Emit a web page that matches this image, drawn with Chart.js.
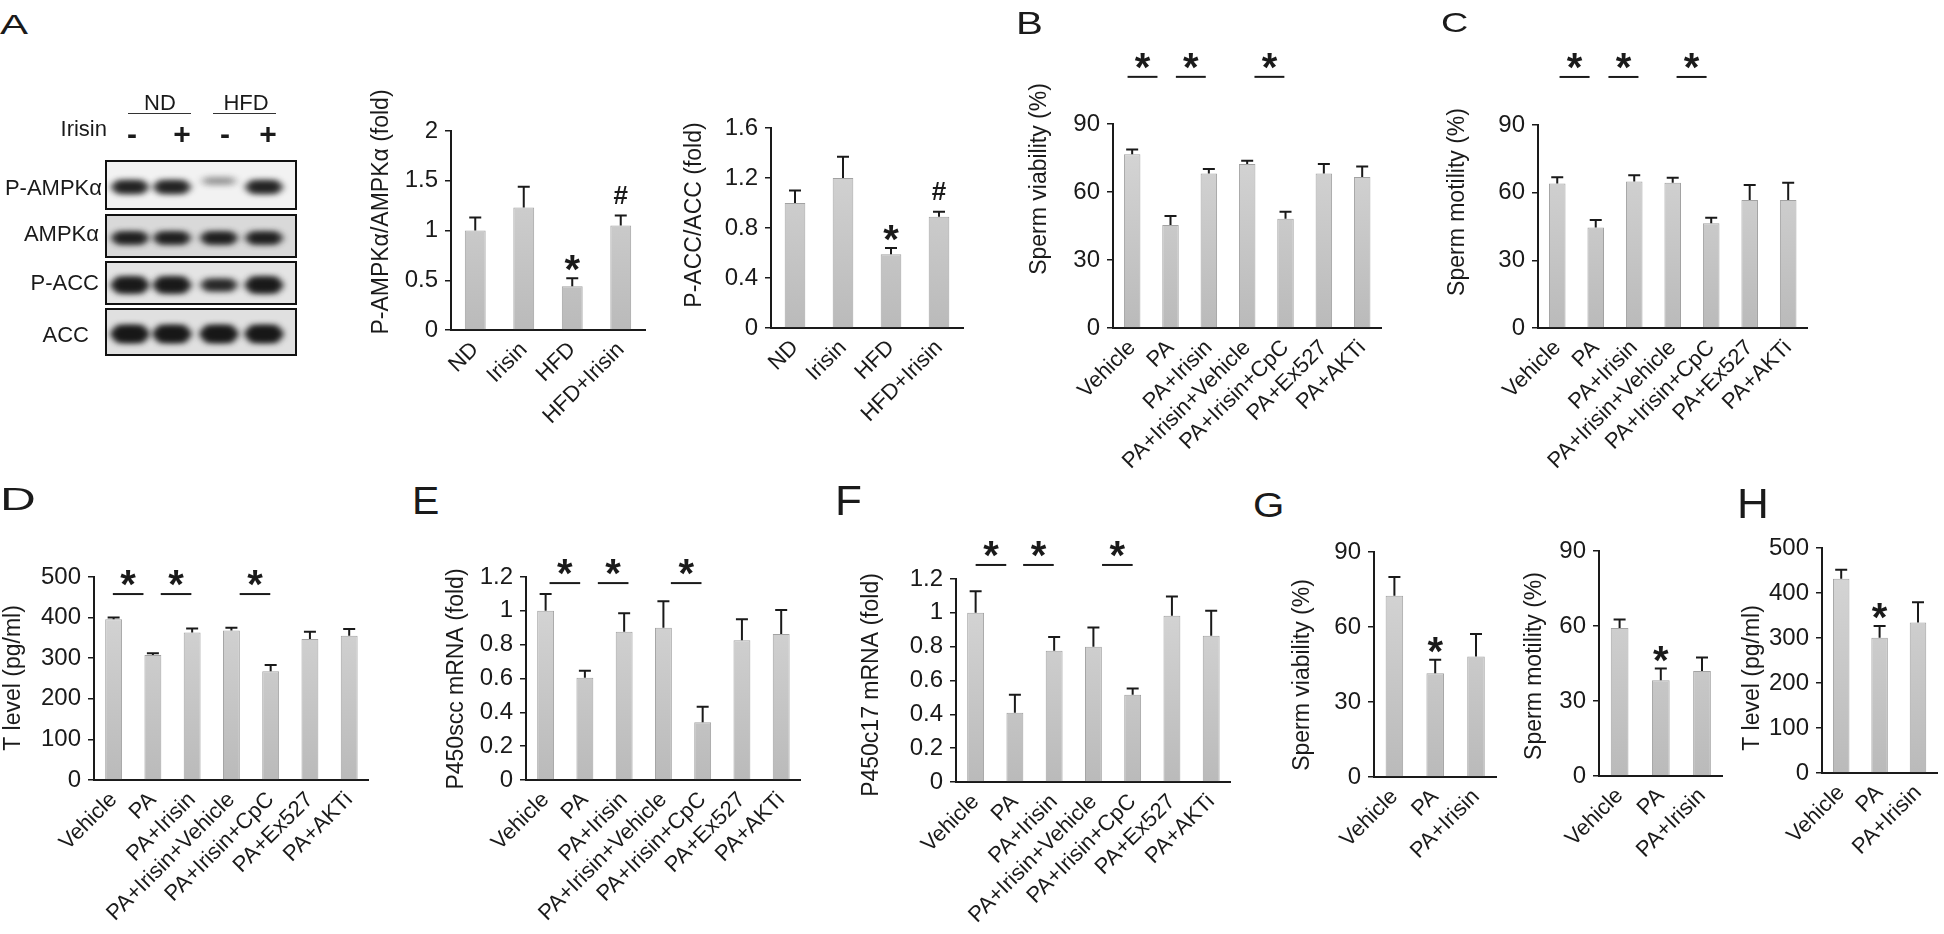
<!DOCTYPE html>
<html>
<head>
<meta charset="utf-8">
<script src="https://cdn.jsdelivr.net/npm/chart.js@4.4.0/dist/chart.umd.min.js"></script>
<style>
  html, body { margin: 0; padding: 0; background: #fff; overflow: hidden; }
  body { width: 1944px; height: 934px; position: relative; font-family: "Liberation Sans", Arial, sans-serif; color: #1a1a1a; }
  .box { position: absolute; }
  .letter { position: absolute; line-height: 1; transform-origin: left top; }
  .txt { position: absolute; line-height: 1; white-space: nowrap; }
  .mid { transform: translate(-50%, -50%); }
  .rule { position: absolute; height: 0; border-top: 1.5px solid #333; }
</style>
</head>
<body>
<script>
// ---- data ----
const groupsA = ["ND", "Irisin", "HFD", "HFD+Irisin"];
const groupsPA = ["Vehicle", "PA", "PA+Irisin", "PA+Irisin+Vehicle", "PA+Irisin+CpC", "PA+Ex527", "PA+AKTi"];
const groupsG = ["Vehicle", "PA", "PA+Irisin"];

const ampkMean = [1.00, 1.23, 0.44, 1.05];
const ampkErr = [0.13, 0.21, 0.08, 0.10];
const accMean = [1.00, 1.20, 0.59, 0.89];
const accErr = [0.10, 0.17, 0.05, 0.04];

const viabMean = [76.6, 45.4, 68.2, 72.3, 48.2, 68.2, 66.6];
const viabErr = [2.2, 4.0, 1.9, 1.5, 3.1, 4.1, 4.6];
const motMean = [64.1, 44.6, 64.9, 64.4, 46.4, 56.7, 56.7];
const motErr = [2.7, 3.3, 2.8, 2.2, 2.5, 6.7, 7.7];

const tMean = [396, 308, 363, 368, 268, 347, 355];
const tErr = [4, 4, 10, 7, 15, 18, 17];
const sccMean = [1.00, 0.605, 0.876, 0.90, 0.341, 0.826, 0.863];
const sccErr = [0.10, 0.041, 0.109, 0.156, 0.092, 0.124, 0.142];
const c17Mean = [1.00, 0.41, 0.776, 0.80, 0.516, 0.983, 0.865];
const c17Err = [0.127, 0.106, 0.081, 0.114, 0.037, 0.114, 0.147];

const vivoViabMean = [72.5, 41.5, 48.2];
const vivoViabErr = [7.5, 5.4, 9.0];
const vivoMotMean = [59.2, 38.3, 42.0];
const vivoMotErr = [3.4, 4.7, 5.4];
const vivoTMean = [431.6, 300.8, 334.2];
const vivoTErr = [20, 26, 45];

const ticksAmpk = [0, 0.5, 1, 1.5, 2];
const ticksAcc = [0, 0.4, 0.8, 1.2, 1.6];
const ticksPct = [0, 30, 60, 90];
const ticksT = [0, 100, 200, 300, 400, 500];
const ticksFold = [0, 0.2, 0.4, 0.6, 0.8, 1, 1.2];

// western blot (picture, not chart data)
const blotRows = ["P-AMPKα", "AMPKα", "P-ACC", "ACC"];
const blotBands = [[0.8, 0.8, 0.3, 0.8], [0.85, 0.85, 0.85, 0.85], [0.9, 0.9, 0.75, 0.9], [0.95, 0.95, 0.95, 0.95]];

const ink = "#1a1a1a";
const fontFamily = '"Liberation Sans", Arial, sans-serif';

// ---- panel layout (page pixels) ----
const panels = [
  { id: "a1", labels: groupsA, mean: ampkMean, err: ampkErr, ticks: ticksAmpk, title: "P-AMPKα/AMPKα (fold)",
    axisX: 451, top: 131, bottom: 330, right: 645, titleX: 382, titleY: 212, marks: [[2, "*"], [3, "#"]] },
  { id: "a2", labels: groupsA, mean: accMean, err: accErr, ticks: ticksAcc, title: "P-ACC/ACC (fold)",
    axisX: 771, top: 128, bottom: 328, right: 963, titleX: 695, titleY: 215, marks: [[2, "*"], [3, "#"]] },
  { id: "b", labels: groupsPA, mean: viabMean, err: viabErr, ticks: ticksPct, title: "Sperm viability (%)",
    axisX: 1113, top: 124, bottom: 328, right: 1386, titleX: 1040, titleY: 179,
    sig: { level: 110.8, from: [-0.12, 1.14, 3.19], span: 0.78 } },
  { id: "c", labels: groupsPA, mean: motMean, err: motErr, ticks: ticksPct, title: "Sperm motility (%)",
    axisX: 1538, top: 125, bottom: 328, right: 1812, titleX: 1458, titleY: 202,
    sig: { level: 111.3, from: [0.06, 1.33, 3.1], span: 0.78 } },
  { id: "d", labels: groupsPA, mean: tMean, err: tErr, ticks: ticksT, title: "T level (pg/ml)",
    axisX: 94, top: 577, bottom: 780, right: 373, titleX: 14, titleY: 678,
    sig: { level: 458, from: [-0.02, 1.2, 3.21], span: 0.78 } },
  { id: "e", labels: groupsPA, mean: sccMean, err: sccErr, ticks: ticksFold, title: "P450scc mRNA (fold)",
    axisX: 526, top: 577, bottom: 780, right: 805, titleX: 457, titleY: 679,
    sig: { level: 1.164, from: [0.1, 1.33, 3.19], span: 0.78 } },
  { id: "f", labels: groupsPA, mean: c17Mean, err: c17Err, ticks: ticksFold, title: "P450c17 mRNA (fold)",
    axisX: 956, top: 579, bottom: 782, right: 1235, titleX: 872, titleY: 685,
    sig: { level: 1.283, from: [0.0, 1.21, 3.22], span: 0.78 } },
  { id: "g1", labels: groupsG, mean: vivoViabMean, err: vivoViabErr, ticks: ticksPct, title: "Sperm viability (%)",
    axisX: 1374, top: 552, bottom: 777, right: 1500, titleX: 1303, titleY: 675, marks: [[1, "*"]] },
  { id: "g2", labels: groupsG, mean: vivoMotMean, err: vivoMotErr, ticks: ticksPct, title: "Sperm motility (%)",
    axisX: 1599, top: 551, bottom: 776, right: 1726, titleX: 1535, titleY: 666, marks: [[1, "*"]] },
  { id: "h", labels: groupsG, mean: vivoTMean, err: vivoTErr, ticks: ticksT, title: "T level (pg/ml)",
    axisX: 1822, top: 548, bottom: 773, right: 1942, titleX: 1753, titleY: 678, marks: [[1, "*"]] }
];

function drawSymbol(ctx, sym, cx, cy) {
  ctx.font = (sym === "#" ? "bold 26px " : "bold 40px ") + fontFamily;
  ctx.textAlign = "center";
  ctx.textBaseline = "alphabetic";
  const m = ctx.measureText(sym);
  const base = cy + (m.actualBoundingBoxAscent - m.actualBoundingBoxDescent) / 2;
  ctx.fillText(sym, cx, base);
}

// error bars, stars, significance lines and the y title
function overlay(p, canvasLeft, canvasTop) {
  return {
    id: "overlay_" + p.id,
    afterDatasetsDraw(chart) {
      const ctx = chart.ctx, xs = chart.scales.x, ys = chart.scales.y;
      const bars = chart.getDatasetMeta(0).data;
      ctx.save();
      ctx.strokeStyle = ink;
      ctx.fillStyle = ink;
      ctx.lineWidth = 2;
      bars.forEach(function (bar, i) {
        const top = ys.getPixelForValue(p.mean[i] + p.err[i]);
        ctx.beginPath();
        ctx.moveTo(bar.x, bar.y);
        ctx.lineTo(bar.x, top);
        ctx.moveTo(bar.x - 6, top);
        ctx.lineTo(bar.x + 6, top);
        ctx.stroke();
      });
      (p.marks || []).forEach(function (mk) {
        const i = mk[0], sym = mk[1];
        const top = ys.getPixelForValue(p.mean[i] + p.err[i]);
        drawSymbol(ctx, sym, bars[i].x, top - (sym === "#" ? 21 : 15));
      });
      if (p.sig) {
        const yy = ys.getPixelForValue(p.sig.level);
        p.sig.from.forEach(function (f) {
          const x0 = xs.getPixelForValue(f), x1 = xs.getPixelForValue(f + p.sig.span);
          ctx.beginPath();
          ctx.moveTo(x0, yy);
          ctx.lineTo(x1, yy);
          ctx.stroke();
          drawSymbol(ctx, "*", (x0 + x1) / 2, yy - 16);
        });
      }
      // rotated axis title
      ctx.translate(p.titleX - canvasLeft, p.titleY - canvasTop);
      ctx.rotate(-Math.PI / 2);
      ctx.font = "23px " + fontFamily;
      ctx.textAlign = "center";
      ctx.textBaseline = "middle";
      ctx.fillText(p.title, 0, 0);
      ctx.restore();
    }
  };
}

function makeChart(p) {
  const padTop = 90, padRight = 2;
  const xH = p.labels.length > 4 ? 154 : 118;
  const left = Math.round(p.titleX - 16);
  const top = p.top - padTop;
  const yW = p.axisX - left;
  const w = yW + (p.right - p.axisX) + padRight;
  const h = padTop + (p.bottom - p.top) + xH;

  const wrap = document.createElement("div");
  wrap.className = "box";
  wrap.style.left = left + "px";
  wrap.style.top = top + "px";
  const cv = document.createElement("canvas");
  cv.width = w;
  cv.height = h;
  wrap.appendChild(cv);
  document.body.appendChild(wrap);

  new Chart(cv, {
    type: "bar",
    data: {
      labels: p.labels,
      datasets: [{
        data: p.mean,
        backgroundColor: function (c) {
          const a = c.chart.chartArea;
          if (!a) return "#cfcfcf";
          const g = c.chart.ctx.createLinearGradient(0, a.top, 0, a.bottom);
          g.addColorStop(0, "#d8d8d8");
          g.addColorStop(1, "#bababa");
          return g;
        },
        borderColor: "#a2a2a2",
        borderWidth: 1,
        barPercentage: 0.43,
        categoryPercentage: 1
      }]
    },
    options: {
      responsive: false,
      animation: false,
      devicePixelRatio: 1,
      layout: { padding: { top: padTop, right: padRight, left: 0, bottom: 0 } },
      plugins: { legend: { display: false }, tooltip: { enabled: false } },
      scales: {
        x: {
          z: 1,
          grid: { display: false, drawTicks: false },
          border: { display: true, color: ink, width: 2 },
          ticks: {
            color: ink, font: { family: fontFamily, size: 22 },
            minRotation: 45, maxRotation: 45, autoSkip: false, padding: 7
          },
          afterFit: function (s) { s.height = xH; }
        },
        y: {
          z: 1,
          min: 0,
          max: p.ticks[p.ticks.length - 1],
          afterBuildTicks: function (s) { s.ticks = p.ticks.map(function (v) { return { value: v }; }); },
          grid: { drawOnChartArea: false, drawTicks: true, tickLength: 6, color: ink, lineWidth: 1.5 },
          border: { display: true, color: ink, width: 2 },
          ticks: {
            color: ink, font: { family: fontFamily, size: 24 }, padding: 7,
            callback: function (v) { return String(v); }
          },
          afterFit: function (s) { s.width = yW; }
        }
      }
    },
    plugins: [overlay(p, left, top)]
  });
}

panels.forEach(makeChart);

// ---- western blot picture ----
(function () {
  const cv = document.createElement("canvas");
  cv.width = 330; cv.height = 300;
  cv.style.position = "absolute"; cv.style.left = "0px"; cv.style.top = "80px";
  document.body.appendChild(cv);
  const ctx = cv.getContext("2d");
  const rowsY = [[81, 129], [135, 177], [182, 224], [229, 275]];
  const bg = ["#f2f2f2", "#d9d9d9", "#e4e4e4", "#e0e0e0"];
  const lanes = [130, 172, 219, 264];
  const thick = [12, 11, 15, 16];
  rowsY.forEach(function (r, ri) {
    ctx.fillStyle = bg[ri];
    ctx.fillRect(106, r[0], 190, r[1] - r[0]);
    const cy = (r[0] + r[1]) / 2 + 2;
    ctx.save();
    ctx.filter = "blur(3px)";
    lanes.forEach(function (lx, li) {
      const a = blotBands[ri][li];
      const t = (ri === 0 && li === 2) ? 6 : (ri === 2 && li === 2 ? 11 : thick[ri]);
      const dy = (ri === 0 && li === 2) ? -6 : 0;
      ctx.fillStyle = "rgba(22,22,22," + a + ")";
      ctx.beginPath();
      ctx.ellipse(lx, cy + dy, 20, t / 2, 0, 0, Math.PI * 2);
      ctx.fill();
      ctx.fillRect(lx - 14, cy + dy - t / 2, 28, t);
    });
    ctx.restore();
    ctx.strokeStyle = "#111";
    ctx.lineWidth = 2;
    ctx.strokeRect(106, r[0], 190, r[1] - r[0]);
  });
})();

function addText(text, x, y, size, opts) {
  const d = document.createElement("div");
  d.className = "txt" + (opts && opts.right ? "" : " mid");
  d.textContent = text;
  d.style.fontSize = size + "px";
  if (opts && opts.bold) d.style.fontWeight = "bold";
  if (opts && opts.right) {
    d.style.left = (x - 200) + "px";
    d.style.width = "200px";
    d.style.textAlign = "right";
    d.style.top = (y - size * 0.5) + "px";
  } else {
    d.style.left = x + "px";
    d.style.top = y + "px";
  }
  document.body.appendChild(d);
}

const blotLabelRight = [102, 99, 99, 89];
const blotLabelY = [188, 234, 283, 335];
blotRows.forEach(function (t, i) { addText(t, blotLabelRight[i], blotLabelY[i], 22, { right: true }); });
addText("ND", 160, 103, 22);
addText("HFD", 246, 103, 22);
addText("Irisin", 107, 129, 22, { right: true });
[["-", 132], ["+", 182], ["-", 225], ["+", 268]].forEach(function (s) { addText(s[0], s[1], 134, 30, { bold: true }); });
[[128, 191], [213, 276]].forEach(function (r) {
  const d = document.createElement("div");
  d.className = "rule";
  d.style.left = r[0] + "px"; d.style.width = (r[1] - r[0]) + "px"; d.style.top = "113px";
  document.body.appendChild(d);
});

// panel letters
[["A", 0, 15, 28, 1.5], ["B", 1016, 12, 31, 1.3], ["C", 1441, 13, 28, 1.35], ["D", 0, 487, 32, 1.55],
 ["E", 412, 486, 39, 1.05], ["F", 835, 485, 42, 1.05], ["G", 1253, 492, 35, 1.15], ["H", 1737, 488, 42, 1.05]]
  .forEach(function (l) {
    const d = document.createElement("div");
    d.className = "letter";
    d.textContent = l[0];
    d.style.fontSize = l[3] + "px";
    d.style.left = l[1] + "px";
    d.style.top = (l[2] - 0.13 * l[3]) + "px";
    d.style.transform = "scaleX(" + l[4] + ")";
    document.body.appendChild(d);
  });
</script>
</body>
</html>
